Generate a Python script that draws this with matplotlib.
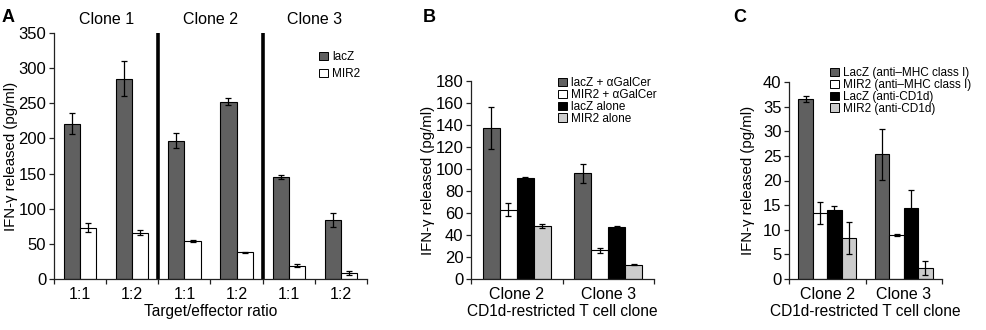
import matplotlib
matplotlib.use("Agg")
import matplotlib.pyplot as plt
from matplotlib.patches import Patch
import numpy as np

plt.rcParams['font.family'] = ['Liberation Sans', 'DejaVu Sans']

# ---------------- data ----------------
# Panel A
a_ratios = ["1:1", "1:2", "1:1", "1:2", "1:1", "1:2"]
a_clones = ["Clone 1", "Clone 2", "Clone 3"]
a_lacz = [221, 285, 197, 252, 145, 84]
a_lacz_err = [15, 25, 11, 5, 3, 10]
a_mir2 = [73, 66, 54, 38, 19, 8]
a_mir2_err = [6, 4, 2, 1, 2, 3]
a_series = ["lacZ", "MIR2"]

# Panel B
b_clones = ["Clone 2", "Clone 3"]
b_series = ["lacZ + \u03b1GalCer", "MIR2 + \u03b1GalCer", "lacZ alone", "MIR2 alone"]
b_vals = [[137, 96], [63, 26], [92, 47], [48, 13]]
b_errs = [[19, 9], [6, 2], [1, 1], [2, 0.5]]

# Panel C
c_clones = ["Clone 2", "Clone 3"]
c_series = ["LacZ (anti\u2013MHC class I)", "MIR2 (anti\u2013MHC class I)",
            "LacZ (anti-CD1d)", "MIR2 (anti-CD1d)"]
c_vals = [[36.5, 25.3], [13.4, 9.0], [14.1, 14.4], [8.3, 2.3]]
c_errs = [[0.6, 5.2], [2.3, 0.2], [0.8, 3.7], [3.3, 1.4]]

# ---------------- style ----------------
DARK = "#606060"
WHITE = "#ffffff"
BLACK = "#000000"
LIGHT = "#cccccc"
colors4 = [DARK, WHITE, BLACK, LIGHT]
W, H = 986, 330
YTICK_FS = 12
XTICK_FS = 11.5
XLAB_FS = 11.2
YLAB_FS = 10.8
CLONE_FS = 11.5
LEG_FS = 8.5

fig = plt.figure(figsize=(W / 100, H / 100), dpi=100)


def px_axes(l, r, t, b):
    return fig.add_axes([l / W, 1 - b / H, (r - l) / W, (b - t) / H])


def style(ax):
    for s in ["top", "right"]:
        ax.spines[s].set_visible(False)
    for s in ["left", "bottom"]:
        ax.spines[s].set_linewidth(0.9)
        ax.spines[s].set_color("#222222")
    ax.tick_params(axis="y", direction="out", length=3.5, width=0.9,
                   labelsize=YTICK_FS, pad=2, color="#222222")
    ax.tick_params(axis="x", which="major", direction="out", length=3.5,
                   width=0.9, color="#222222")
    ax.tick_params(axis="x", which="minor", length=0, labelsize=XTICK_FS, pad=6)


def place_ylabel(ax, l, r, xcenter):
    # label anchor is the right edge of the rotated text
    ax.yaxis.set_label_coords((xcenter + 7 - l) / (r - l), 0.5)


ekw = dict(ecolor="black", elinewidth=0.9, capsize=2.4, capthick=0.9)

# ---------------- Panel A ----------------
AL, AR = 54, 367
axA = px_axes(AL, AR, 33, 279)
n = len(a_ratios)
xc = np.arange(n) + 0.5
bw = 0.31
axA.bar(xc - bw / 2, a_lacz, bw, yerr=a_lacz_err, color=DARK, edgecolor="black",
        linewidth=0.8, error_kw=ekw, label=a_series[0])
axA.bar(xc + bw / 2, a_mir2, bw, yerr=a_mir2_err, color=WHITE, edgecolor="black",
        linewidth=0.8, error_kw=ekw, label=a_series[1])
axA.set_xlim(0, n)
axA.set_ylim(0, 350)
axA.set_yticks(np.arange(0, 351, 50))
axA.set_xticks(np.arange(0, n + 1))
axA.set_xticklabels([])
axA.set_xticks(xc, minor=True)
axA.set_xticklabels(a_ratios, minor=True)
style(axA)
for xb in [2, 4]:
    axA.axvline(xb, color="black", linewidth=2.6, ymin=0, ymax=1)
for i, cl in enumerate(a_clones):
    axA.annotate(cl, xy=(2 * i + 1, 1), xycoords=("data", "axes fraction"),
                 xytext=(0, 13), textcoords="offset pixels", ha="center",
                 va="center", fontsize=CLONE_FS)
axA.set_xlabel("Target/effector ratio", fontsize=XLAB_FS, labelpad=1)
axA.set_ylabel("IFN-\u03b3 released (pg/ml)", fontsize=YLAB_FS)
place_ylabel(axA, AL, AR, 11)
hA = [Patch(facecolor=DARK, edgecolor="black", linewidth=0.7),
      Patch(facecolor=WHITE, edgecolor="black", linewidth=0.7)]
axA.legend(hA, a_series, loc="upper left", bbox_to_anchor=(311 / W, 1 - 43 / H),
           bbox_transform=fig.transFigure, frameon=False, fontsize=LEG_FS,
           handlelength=0.7, handleheight=0.7, handletextpad=0.4,
           labelspacing=0.42, borderpad=0.2)
fig.text(2 / W, 1 - 18 / H, "A", fontsize=13, fontweight="bold", va="center")


# ---------------- Panels B & C ----------------
def grouped(ax, clones, series, vals, errs, ymax, ystep, bw):
    ng = len(clones)
    centers = np.arange(ng) + 0.5
    k = len(series)
    for j in range(k):
        pos = centers + (j - (k - 1) / 2) * bw
        ax.bar(pos, vals[j], bw, yerr=errs[j], color=colors4[j], edgecolor="black",
               linewidth=0.8, error_kw=ekw, label=series[j])
    ax.set_xlim(0, ng)
    ax.set_ylim(0, ymax)
    ax.set_yticks(np.arange(0, ymax + 0.001, ystep))
    ax.set_xticks(np.arange(0, ng + 1))
    ax.set_xticklabels([])
    ax.set_xticks(centers, minor=True)
    ax.set_xticklabels(clones, minor=True)
    style(ax)
    ax.set_xlabel("CD1d-restricted T cell clone", fontsize=XLAB_FS, labelpad=1)
    ax.set_ylabel("IFN-\u03b3 released (pg/ml)", fontsize=YLAB_FS)


def leg(ax, series, x, y):
    hs = [Patch(facecolor=c, edgecolor="black", linewidth=0.7) for c in colors4]
    ax.legend(hs, series, loc="upper left", bbox_to_anchor=(x / W, 1 - y / H),
              bbox_transform=fig.transFigure, frameon=False, fontsize=LEG_FS,
              handlelength=0.7, handleheight=0.7, handletextpad=0.4,
              labelspacing=-0.02, borderpad=0.2)


BL, BR = 471, 654
axB = px_axes(BL, BR, 81, 279)
grouped(axB, b_clones, b_series, b_vals, b_errs, 180, 20, 0.185)
place_ylabel(axB, BL, BR, 428)
leg(axB, b_series, 550, 69)
fig.text(423 / W, 1 - 18 / H, "B", fontsize=13, fontweight="bold", va="center")

CL, CR = 789, 942
axC = px_axes(CL, CR, 82, 279)
grouped(axC, c_clones, c_series, c_vals, c_errs, 40, 5, 0.188)
place_ylabel(axC, CL, CR, 748)
leg(axC, c_series, 822, 59)
fig.text(733 / W, 1 - 18 / H, "C", fontsize=13, fontweight="bold", va="center")

fig.savefig("out.png", dpi=100)
